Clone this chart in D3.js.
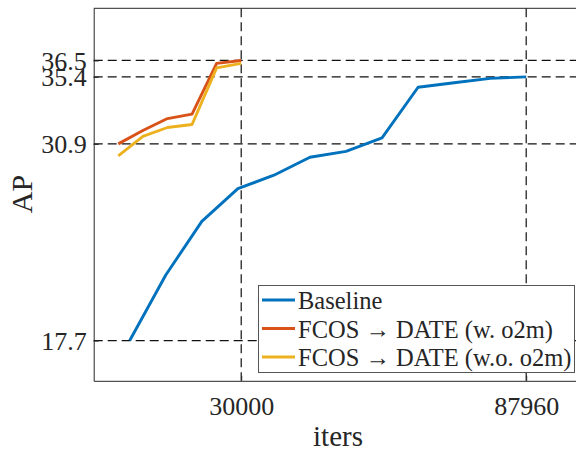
<html>
<head>
<meta charset="utf-8">
<title>AP vs iters</title>
<script src="https://cdn.jsdelivr.net/npm/d3@7/dist/d3.min.js"></script>
<style>
  body { margin: 0; background: #fff; }
  svg text { font-family: "Liberation Serif", "Times New Roman", serif; fill: #262626; }
</style>
</head>
<body>
<div id="chart"></div>
<script>
// data
var baselineIters = [7330, 14660, 21990, 29320, 36650, 43980, 51310, 58640, 65970, 73300, 80630, 87960];
var baselineAP    = [17.7, 22.1, 25.7, 27.9, 28.8, 30.0, 30.4, 31.3, 34.7, 35.0, 35.3, 35.4];
var dateIters     = [5000, 10000, 15000, 20000, 25000, 30000];
var o2mAP         = [30.9, 31.8, 32.6, 32.9, 36.3, 36.5];
var noO2mAP       = [30.1, 31.4, 32.0, 32.2, 36.0, 36.3];
var xTicks = [30000, 87960];
var yTicks = [17.7, 30.9, 35.4, 36.5];
var seriesNames = ["Baseline", "FCOS \u2192 DATE (w. o2m)", "FCOS \u2192 DATE (w.o. o2m)"];
var colors = ["#0072BD", "#D95319", "#EDB120"];

var width = 576, height = 451;
var pLeft = 93.7, pTop = 8.3, pBottom = 380.8, pRight = 585.4;

var svg = d3.select("#chart").append("svg")
    .attr("width", width).attr("height", height);

var x = d3.scaleLinear().domain([0, 100000]).range([pLeft, pRight]);
var y = d3.scaleLinear().domain([15, 40]).range([pBottom, pTop]);

// dashed guide lines at the ticks
svg.selectAll(".hgrid").data(yTicks).enter().append("line")
    .attr("x1", pLeft).attr("x2", pRight)
    .attr("y1", d => y(d)).attr("y2", d => y(d))
    .attr("stroke", "#111").attr("stroke-width", 1.2).attr("stroke-dasharray", "9,5");
svg.selectAll(".vgrid").data(xTicks).enter().append("line")
    .attr("y1", pTop).attr("y2", pBottom)
    .attr("x1", d => x(d)).attr("x2", d => x(d))
    .attr("stroke", "#111").attr("stroke-width", 1.2).attr("stroke-dasharray", "9,5");

// axes
var xAxis = svg.append("g").attr("transform", "translate(0," + pBottom + ")")
    .call(d3.axisBottom(x).tickValues(xTicks).tickFormat(d3.format("d")).tickSizeInner(-5).tickSizeOuter(0));
var yAxis = svg.append("g").attr("transform", "translate(" + pLeft + ",0)")
    .call(d3.axisLeft(y).tickValues(yTicks).tickFormat(d3.format(".1f")).tickSizeInner(-5).tickSizeOuter(0));
[xAxis, yAxis].forEach(function(g) {
  g.select(".domain").attr("stroke", "#262626");
  g.selectAll(".tick line").attr("stroke", "#262626");
  g.selectAll(".tick text").attr("font-size", 26).attr("font-family", "Liberation Serif").attr("fill", "#262626");
});
xAxis.selectAll(".tick text").attr("y", 34).attr("dy", 0);
yAxis.selectAll(".tick text").attr("x", -7).attr("dy", "0.34em");
svg.append("line").attr("x1", pLeft).attr("x2", pRight).attr("y1", pTop).attr("y2", pTop)
    .attr("stroke", "#262626");

// lines
var line = d3.line().x(d => x(d[0])).y(d => y(d[1]));
var series = [
  d3.zip(baselineIters, baselineAP),
  d3.zip(dateIters, o2mAP),
  d3.zip(dateIters, noO2mAP)
];
series.forEach(function(s, i) {
  svg.append("path").datum(s).attr("d", line)
     .attr("fill", "none").attr("stroke", colors[i]).attr("stroke-width", 2.9)
     .attr("stroke-linejoin", "round");
});

// axis labels
svg.append("text").attr("x", 338).attr("y", 446)
    .attr("text-anchor", "middle").attr("font-size", 29).text("iters");
svg.append("text").attr("transform", "translate(32,194) rotate(-90)")
    .attr("text-anchor", "middle").attr("font-size", 30).text("AP");

// legend
var lg = svg.append("g");
lg.append("rect").attr("x", 258.5).attr("y", 285.5).attr("width", 316).attr("height", 87)
    .attr("fill", "#fff").attr("stroke", "#555").attr("stroke-width", 1);
seriesNames.forEach(function(name, i) {
  var yy = 300 + i * 28.5;
  lg.append("line").attr("x1", 262).attr("x2", 295).attr("y1", yy).attr("y2", yy)
    .attr("stroke", colors[i]).attr("stroke-width", 2.9);
  lg.append("text").attr("x", 298).attr("y", yy + 9).attr("font-size", 24.5)
    .attr("fill", "#000").text(name);
});
</script>
</body>
</html>
